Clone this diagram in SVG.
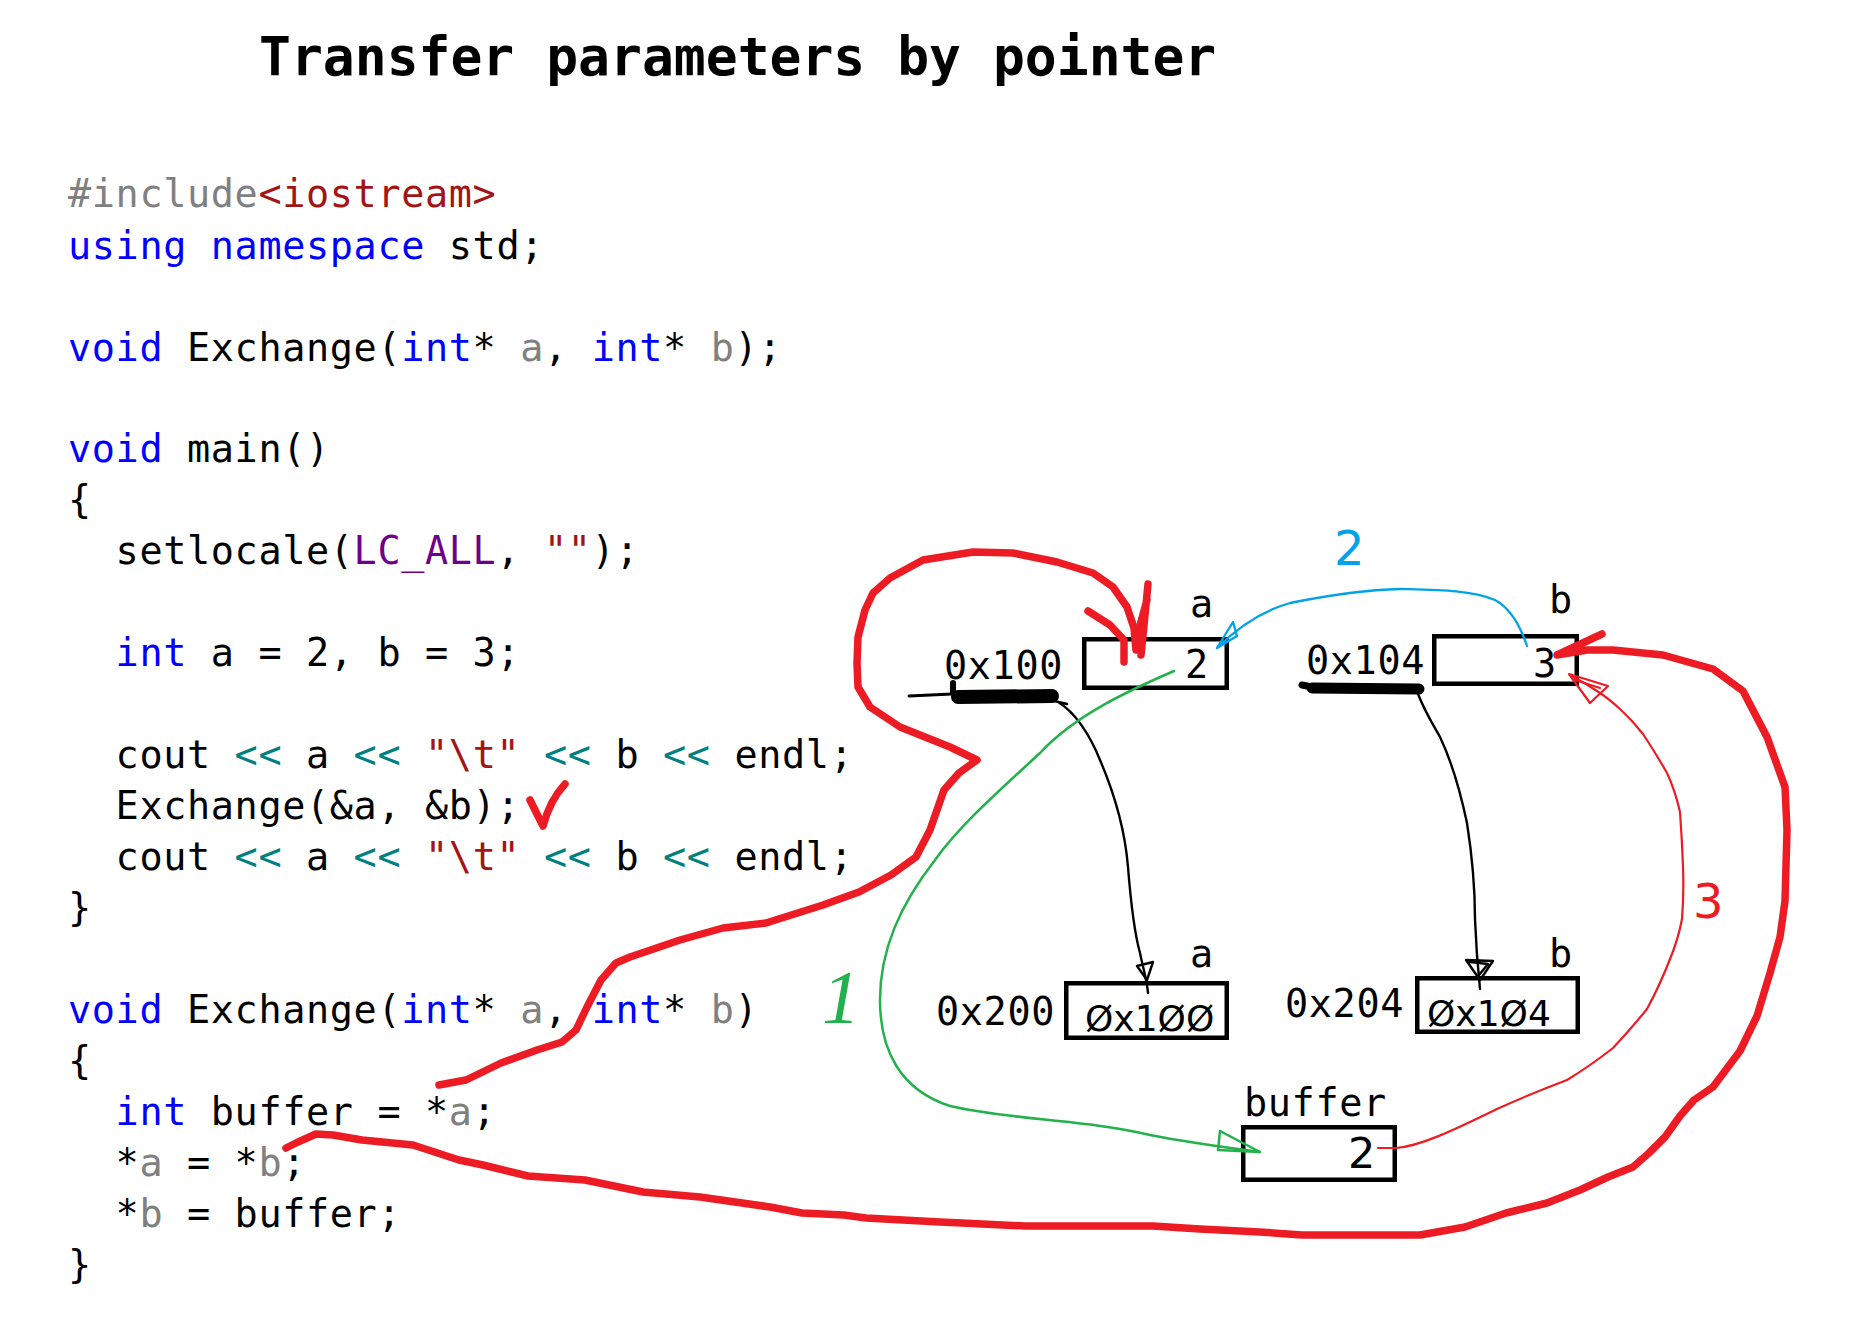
<svg xmlns="http://www.w3.org/2000/svg" width="1854" height="1324" viewBox="0 0 1854 1324">
<style>
.bg{fill:#fff}
.title{font-family:"DejaVu Sans Mono","Liberation Mono",monospace;font-weight:bold;font-size:53px;fill:#000}
.code{font-family:"DejaVu Sans Mono","Liberation Mono",monospace;font-size:38.5px;letter-spacing:0.62px;fill:#000}
.kw{fill:#0000FF}.gr{fill:#808080}.str{fill:#A31515}.mac{fill:#6F008A}.op{fill:#008080}
.box{fill:none;stroke:#000;stroke-width:4.5}
.hand{font-family:"DejaVu Sans","Liberation Sans",sans-serif;fill:#000}
.ln{fill:none;stroke-linecap:round;stroke-linejoin:round}
.rk{stroke:#ED1C24;stroke-width:7.5}
.rt{stroke:#ED1C24;stroke-width:2.2}
.gn{stroke:#22B14C;stroke-width:2.5}
.bl{stroke:#00A2E8;stroke-width:2.3}
.bk{stroke:#000;stroke-width:2.4}
.blob{stroke:#000}
</style>
<rect class="bg" x="0" y="0" width="1854" height="1324"/>

<g id="title">
<text class="title" x="259" y="75">Transfer parameters by pointer</text>
</g>

<g id="code" xml:space="preserve">
<text class="code" x="68" y="207"><tspan class="gr">#include</tspan><tspan class="str">&lt;iostream&gt;</tspan></text>
<text class="code" x="68" y="259"><tspan class="kw">using</tspan> <tspan class="kw">namespace</tspan> std;</text>
<text class="code" x="68" y="361"><tspan class="kw">void</tspan> Exchange(<tspan class="kw">int</tspan>* <tspan class="gr">a</tspan>, <tspan class="kw">int</tspan>* <tspan class="gr">b</tspan>);</text>
<text class="code" x="68" y="462"><tspan class="kw">void</tspan> main()</text>
<text class="code" x="68" y="513">{</text>
<text class="code" x="115.6" y="564">setlocale(<tspan class="mac">LC_ALL</tspan>, <tspan class="str">""</tspan>);</text>
<text class="code" x="115.6" y="666"><tspan class="kw">int</tspan> a = 2, b = 3;</text>
<text class="code" x="115.6" y="768">cout <tspan class="op">&lt;&lt;</tspan> a <tspan class="op">&lt;&lt;</tspan> <tspan class="str">"\t"</tspan> <tspan class="op">&lt;&lt;</tspan> b <tspan class="op">&lt;&lt;</tspan> endl;</text>
<text class="code" x="115.6" y="819">Exchange(&amp;a, &amp;b);</text>
<text class="code" x="115.6" y="870">cout <tspan class="op">&lt;&lt;</tspan> a <tspan class="op">&lt;&lt;</tspan> <tspan class="str">"\t"</tspan> <tspan class="op">&lt;&lt;</tspan> b <tspan class="op">&lt;&lt;</tspan> endl;</text>
<text class="code" x="68" y="921">}</text>
<text class="code" x="68" y="1023"><tspan class="kw">void</tspan> Exchange(<tspan class="kw">int</tspan>* <tspan class="gr">a</tspan>, <tspan class="kw">int</tspan>* <tspan class="gr">b</tspan>)</text>
<text class="code" x="68" y="1074">{</text>
<text class="code" x="115.6" y="1125"><tspan class="kw">int</tspan> buffer = *<tspan class="gr">a</tspan>;</text>
<text class="code" x="115.6" y="1176">*<tspan class="gr">a</tspan> = *<tspan class="gr">b</tspan>;</text>
<text class="code" x="115.6" y="1227">*<tspan class="gr">b</tspan> = buffer;</text>
<text class="code" x="68" y="1278">}</text>
</g>

<g id="node-a">
<rect class="box" x="1084.25" y="639.25" width="142.5" height="48.5"/>
<text class="code" x="944" y="679">0x100</text>
<text class="code" x="1190" y="617">a</text>
<text class="code" x="1185" y="678">2</text>
<path class="ln blob" d="M909,696 L952,694" stroke-width="3"/>
<path class="ln blob" d="M953,683 L953,692" stroke-width="6"/>
<path class="ln blob" d="M958,697 L1052,696" stroke-width="14"/>
</g>

<g id="node-b">
<rect class="box" x="1434.25" y="636.25" width="142.5" height="47.5"/>
<text class="code" x="1306" y="674">0x104</text>
<text class="code" x="1549" y="613">b</text>
<text class="code" x="1533" y="677">3</text>
<path class="ln blob" d="M1302,685 L1312,687" stroke-width="7"/>
<path class="ln blob" d="M1312,688 L1419,689" stroke-width="11"/>
</g>

<g id="node-a2">
<rect class="box" x="1066.25" y="983.25" width="160.5" height="54.5"/>
<text class="code" x="936" y="1025">0x200</text>
<text class="code" x="1190" y="967">a</text>
<text class="hand" x="1085" y="1031" font-size="36">Øx1ØØ</text>
</g>

<g id="node-b2">
<rect class="box" x="1417.25" y="978.25" width="160.5" height="53.5"/>
<text class="code" x="1285" y="1017">0x204</text>
<text class="code" x="1549" y="967">b</text>
<text class="hand" x="1427" y="1026" font-size="36">Øx1Ø4</text>
</g>

<g id="node-buffer">
<rect class="box" x="1243.25" y="1127.25" width="151.5" height="52.5"/>
<text class="code" x="1244" y="1116">buffer</text>
<text class="hand" x="1348" y="1168" font-size="43">2</text>
</g>

<g id="connectors">
<path class="ln bk" d="M1050,700 L1067,704 M1058,702 C1075,712 1090,735 1100,760 C1115,795 1125,830 1128,867 C1131,905 1135,935 1140,953 C1143,968 1147,980 1148,993"/>
<path class="ln bk" d="M1137,966 L1153,962 L1147,980 Z"/>
<path class="ln bk" d="M1418,694 C1425,712 1435,728 1440,737 C1450,758 1460,790 1467,823 C1472,855 1475,890 1475,919 C1476,945 1478,970 1480,989"/>
<path class="ln bk" d="M1466,960 L1493,961 L1480,980 Z M1470,962 L1488,964 L1479,975"/>
<path class="ln gn" d="M1174,671 C1130,690 1075,715 1040,753 C1000,790 960,825 935,860 C900,905 880,950 880,1000 C880,1050 900,1090 950,1106 C1010,1120 1090,1120 1150,1135 C1190,1143 1230,1148 1260,1152"/>
<path class="ln gn" d="M1220,1131 L1260,1152 L1218,1150 Z"/>
<path class="ln bl" d="M1527,646 C1520,625 1510,608 1495,600 C1470,590 1440,590 1400,589 C1360,590 1320,597 1290,603 C1265,610 1240,625 1217,648"/>
<path class="ln bl" d="M1217,648 L1233,622 L1237,636 Z"/>
<path class="ln rt" d="M1378,1148 L1396,1148 C1420,1146 1450,1132 1497,1109 C1530,1094 1567,1080 1567,1080 C1590,1066 1613,1048 1613,1048 C1630,1030 1647,1009 1647,1009 C1660,985 1670,959 1670,959 C1678,940 1682,919 1682,919 C1684,895 1683,866 1683,866 C1682,840 1680,812 1680,812 C1675,790 1667,773 1667,773 C1655,752 1643,734 1643,734 C1632,720 1620,709 1620,709 C1608,698 1597,691 1597,691 C1585,683 1570,675 1570,675"/>
<path class="ln rt" d="M1569,674 L1608,686 L1590,703 Z M1575,680 L1600,688"/>
<path class="ln rk" d="M439,1085 L466,1080 L501,1063 L537,1050 L562,1042 L576,1030 L587,1007 L601,980 L616,963 L630,957 L680,940 L723,928 L766,923 L823,905 L859,892 L891,875 L916,857 L930,830 L944,790 L959,773 L977,760 L950,747 L900,727 L870,707 L858,687 L857,663 L858,637 L865,610 L873,593 L890,578 L923,560 L973,552 L1013,553 L1057,562 L1093,573 L1113,587 L1127,607 L1134,628 L1136,650"/>
<path class="ln rk" d="M1088,611 L1110,625 L1124,640 L1124,662 M1148,584 L1145,615 L1141,655 M1147,600 L1136,640"/>
<path class="ln rk" d="M286,1148 L298,1142 L316,1134 L333,1135 L362,1140 L413,1145 L459,1160 L483,1165 L528,1176 L585,1180 L643,1192 L700,1197 L770,1207 L802,1213 L844,1215 L866,1218 L940,1222 L962,1223 L1025,1226 L1153,1226 L1200,1229 L1260,1232 L1302,1235 L1420,1235 L1465,1227 L1506,1213 L1547,1203 L1580,1190 L1608,1177 L1633,1167 L1649,1153 L1665,1137 L1680,1116 L1694,1100 L1713,1087 L1740,1051 L1757,1016 L1770,973 L1780,937 L1785,901 L1787,830 L1785,787 L1767,737 L1743,691 L1713,669 L1663,655 L1613,650 L1587,650 L1557,655 L1602,634"/>
</g>

<g id="annotations">
<path class="ln rk" d="M530,800 Q536,812 543,826 Q550,800 565,784"/>
<text x="822" y="1023" font-family="Liberation Serif, serif" font-style="italic" font-size="76" fill="#22B14C">1</text>
<text class="hand" x="1334" y="565" font-size="48" style="fill:#00A2E8">2</text>
<text class="hand" x="1693" y="918" font-size="48" style="fill:#ED1C24">3</text>
</g>
</svg>
